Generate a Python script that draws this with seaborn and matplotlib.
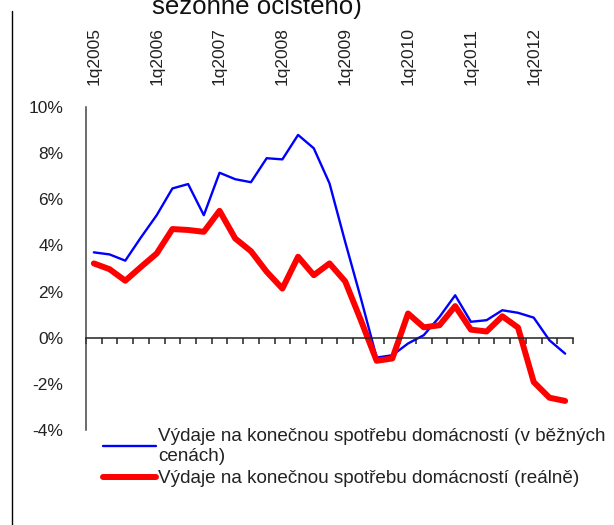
import numpy as np
import matplotlib
matplotlib.use("Agg")
import matplotlib.pyplot as plt
import matplotlib.ticker as mticker
from matplotlib.lines import Line2D
import seaborn as sns

# -----------------------------
# DATA (y/y change, %, quarterly 1q2005 - 3q2012)
# -----------------------------
year_labels = ["1q2005", "1q2006", "1q2007", "1q2008",
               "1q2009", "1q2010", "1q2011", "1q2012"]

nominal = [3.70, 3.61, 3.34, 4.35, 5.31, 6.47, 6.66, 5.31, 7.15, 6.87,
           6.74, 7.78, 7.73, 8.79, 8.21, 6.69, 4.15, 1.70, -0.86, -0.76,
           -0.25, 0.11, 0.90, 1.84, 0.69, 0.76, 1.19, 1.08, 0.87, -0.11,
           -0.69]

real = [3.22, 2.97, 2.47, 3.07, 3.65, 4.71, 4.67, 4.59, 5.50, 4.30,
        3.75, 2.86, 2.13, 3.51, 2.71, 3.22, 2.44, 0.75, -1.00, -0.90,
        1.05, 0.45, 0.54, 1.37, 0.35, 0.27, 0.93, 0.44, -1.92, -2.60,
        -2.74]

label_nominal = "Výdaje na konečnou spotřebu domácností (v běžných\ncenách)"
label_real = "Výdaje na konečnou spotřebu domácností (reálně)"
title_tail = "sezónně očištěno)"

# -----------------------------
# STYLE
# -----------------------------
sns.set_style("white")
plt.rcParams["font.family"] = ["Liberation Sans", "DejaVu Sans"]
plt.rcParams["text.color"] = "#222222"

idx = np.arange(len(nominal))

fig = plt.figure(figsize=(6.14, 5.25), dpi=100)
ax = fig.add_axes([86 / 614, 1 - 430 / 525, 487 / 614, 323 / 525])

sns.lineplot(x=idx, y=nominal, ax=ax, color="#0000FF", linewidth=1.7,
             label=label_nominal)
sns.lineplot(x=idx, y=real, ax=ax, color="#FF0000", linewidth=4.3,
             label=label_real)

ax.set_xlim(-0.5, len(nominal) - 0.5)
ax.set_ylim(-4, 10)

# spines
for s in ["top", "right"]:
    ax.spines[s].set_visible(False)
ax.spines["left"].set_color("#444444")
ax.spines["left"].set_linewidth(1.1)
ax.spines["bottom"].set_position(("data", 0))
ax.spines["bottom"].set_color("#222222")
ax.spines["bottom"].set_linewidth(1.1)

# y axis
ax.set_yticks(np.arange(-4, 11, 2))
ax.yaxis.set_major_formatter(mticker.FuncFormatter(lambda v, _: f"{v:.0f}%"))
ax.tick_params(axis="y", direction="out", length=4.3, width=1.1,
               color="#444444", pad=12, labelsize=12.5, labelcolor="#222222")

# x axis: tick marks between quarters, year labels on top
ax.set_xticks(np.arange(0, len(nominal), 4))
ax.set_xticklabels(year_labels, rotation=90)
ax.set_xticks(np.arange(-0.5, len(nominal), 1), minor=True)
ax.tick_params(axis="x", which="major", length=0, bottom=False, top=False,
               labelbottom=False, labeltop=True, pad=16, labelsize=12.5,
               labelcolor="#222222")
ax.tick_params(axis="x", which="minor", direction="out", length=4.3,
               width=1.1, color="#222222", bottom=True, top=False)
ax.set_xlabel("")
ax.set_ylabel("")

# legend
ax.legend(loc="upper left", bbox_to_anchor=(103 / 614, 1 - 428 / 525),
          bbox_transform=fig.transFigure, frameon=False, fontsize=13.6,
          handlelength=2.8, handletextpad=0.12, borderpad=0,
          borderaxespad=0, labelspacing=0.3)

# cut-off title and left frame line
fig.text(152 / 614, 1 - 14 / 525, title_tail, fontsize=18.6,
         ha="left", va="baseline", color="#111111")
fig.add_artist(Line2D([12 / 614, 12 / 614], [0, 1 - 11 / 525],
                      transform=fig.transFigure, color="black", linewidth=1.0))

fig.savefig("out.png", dpi=100)
